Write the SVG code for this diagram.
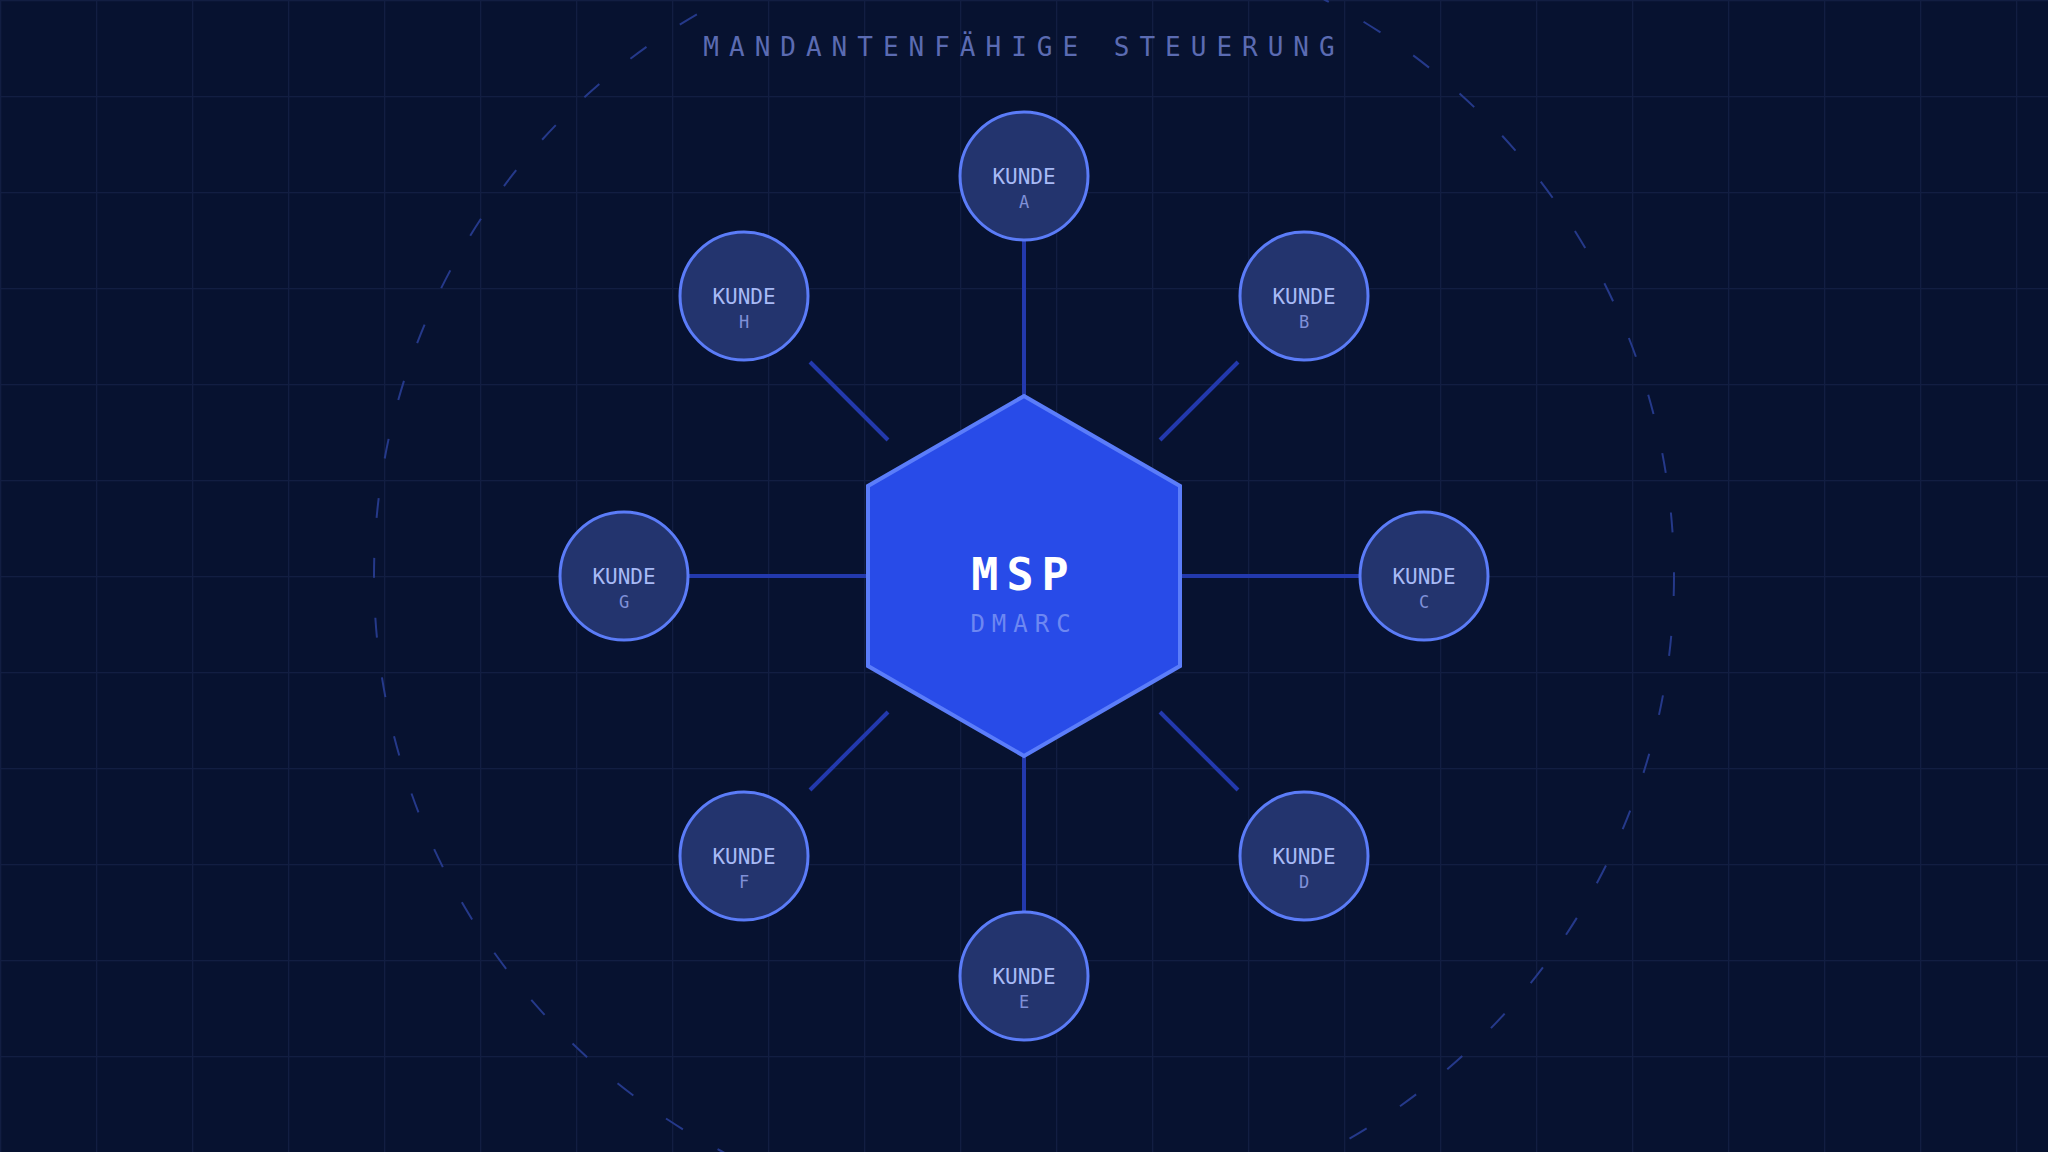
<svg xmlns="http://www.w3.org/2000/svg" width="2048" height="1152" viewBox="0 0 2048 1152">
  <defs>
    <pattern id="grid" x="0" y="0" width="96" height="96" patternUnits="userSpaceOnUse">
      <path d="M0 0.5 H96 M0.5 0 V96" fill="none" stroke="#121e42" stroke-width="1.5"/>
    </pattern>
    <style>
      .mono { font-family: "DejaVu Sans Mono", "Liberation Mono", monospace; }
      .title { font-size: 26px; letter-spacing: 10px; fill: #5b6bb2; text-anchor: middle; }
      .link { stroke: #2339ad; stroke-width: 4; fill: none; }
      .client circle { fill: #23346e; stroke: #5b7cf8; stroke-width: 3; }
      .cname { font-size: 21px; fill: #a8baf6; text-anchor: middle; }
      .cid { font-size: 17px; fill: #7f90d8; text-anchor: middle; }
      .orbit { fill: none; stroke: #25398a; stroke-width: 2; stroke-dasharray: 20 40; }
    </style>
  </defs>

  <rect width="2048" height="1152" fill="#071230"/>
  <rect width="2048" height="1152" fill="url(#grid)"/>

  <circle class="orbit" cx="1024" cy="576" r="650"/>

  <text class="mono title" x="1024" y="56">MANDANTENFÄHIGE STEUERUNG</text>

  <g id="connectors">
    <line class="link" x1="1024" y1="241" x2="1024" y2="396"/>
    <line class="link" x1="1238" y1="362" x2="1160" y2="440"/>
    <line class="link" x1="1180" y1="576" x2="1359" y2="576"/>
    <line class="link" x1="1238" y1="790" x2="1160" y2="712"/>
    <line class="link" x1="1024" y1="756" x2="1024" y2="911"/>
    <line class="link" x1="810" y1="790" x2="888" y2="712"/>
    <line class="link" x1="689" y1="576" x2="868" y2="576"/>
    <line class="link" x1="810" y1="362" x2="888" y2="440"/>
  </g>

  <g id="kunde-a" class="client">
    <circle cx="1024" cy="176" r="64"/>
    <text class="mono cname" x="1024" y="183.5">KUNDE</text>
    <text class="mono cid" x="1024" y="208">A</text>
  </g>
  <g id="kunde-b" class="client">
    <circle cx="1304" cy="296" r="64"/>
    <text class="mono cname" x="1304" y="303.5">KUNDE</text>
    <text class="mono cid" x="1304" y="328">B</text>
  </g>
  <g id="kunde-c" class="client">
    <circle cx="1424" cy="576" r="64"/>
    <text class="mono cname" x="1424" y="583.5">KUNDE</text>
    <text class="mono cid" x="1424" y="608">C</text>
  </g>
  <g id="kunde-d" class="client">
    <circle cx="1304" cy="856" r="64"/>
    <text class="mono cname" x="1304" y="863.5">KUNDE</text>
    <text class="mono cid" x="1304" y="888">D</text>
  </g>
  <g id="kunde-e" class="client">
    <circle cx="1024" cy="976" r="64"/>
    <text class="mono cname" x="1024" y="983.5">KUNDE</text>
    <text class="mono cid" x="1024" y="1008">E</text>
  </g>
  <g id="kunde-f" class="client">
    <circle cx="744" cy="856" r="64"/>
    <text class="mono cname" x="744" y="863.5">KUNDE</text>
    <text class="mono cid" x="744" y="888">F</text>
  </g>
  <g id="kunde-g" class="client">
    <circle cx="624" cy="576" r="64"/>
    <text class="mono cname" x="624" y="583.5">KUNDE</text>
    <text class="mono cid" x="624" y="608">G</text>
  </g>
  <g id="kunde-h" class="client">
    <circle cx="744" cy="296" r="64"/>
    <text class="mono cname" x="744" y="303.5">KUNDE</text>
    <text class="mono cid" x="744" y="328">H</text>
  </g>

  <g id="msp">
    <polygon points="1024,396 1180,486 1180,666 1024,756 868,666 868,486" fill="#284be8" stroke="#5b7dfa" stroke-width="4"/>
    <text class="mono" x="1024" y="590" font-size="45" font-weight="bold" letter-spacing="8" fill="#ffffff" text-anchor="middle">MSP</text>
    <text class="mono" x="1024" y="632" font-size="24" letter-spacing="7" fill="#6d87f2" text-anchor="middle">DMARC</text>
  </g>
</svg>
